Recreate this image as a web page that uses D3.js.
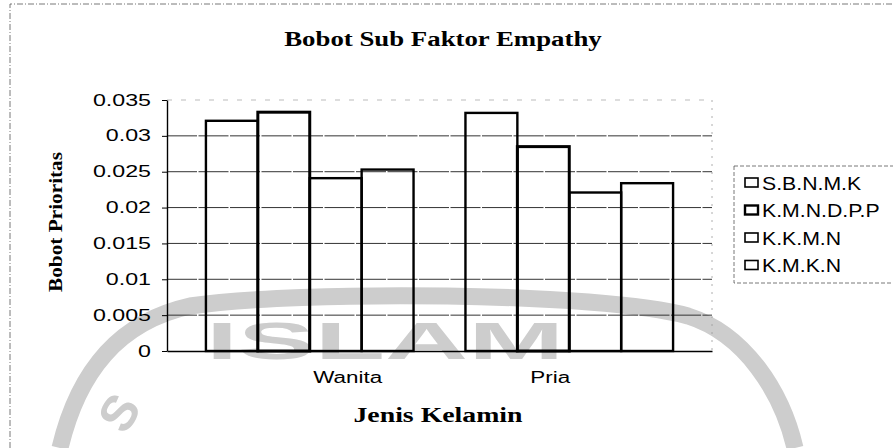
<!DOCTYPE html>
<html>
<head>
<meta charset="utf-8">
<script src="https://cdn.jsdelivr.net/npm/d3@7"></script>
<style>
  body { margin: 0; background: #fff; }
  svg { display: block; }
  .sans { font-family: Arial, "Liberation Sans", sans-serif; }
  .serif { font-family: "Times New Roman", "Liberation Serif", serif; font-weight: bold; }
</style>
</head>
<body>
<svg id="chart" width="893" height="448"></svg>
<script>
const categories = ["Wanita", "Pria"];
const seriesNames = ["S.B.N.M.K", "K.M.N.D.P.P", "K.K.M.N", "K.M.K.N"];
const wanitaValues = [0.0321, 0.0333, 0.0241, 0.0253];
const priaValues = [0.0332, 0.0285, 0.0221, 0.0234];
const yTicks = [0, 0.005, 0.01, 0.015, 0.02, 0.025, 0.03, 0.035];
const yTickLabels = ["0", "0.005", "0.01", "0.015", "0.02", "0.025", "0.03", "0.035"];

const valuesByCategory = { Wanita: wanitaValues, Pria: priaValues };

const svg = d3.select("#chart");
const plot = { left: 167, right: 712, top: 100, bottom: 351 };

// scanned chart: all text is wider than the font would draw it
const stretch = (sel, factor) => {
  sel.each(function () {
    const w = this.getComputedTextLength();
    d3.select(this).attr("textLength", w * factor).attr("lengthAdjust", "spacingAndGlyphs");
  });
};

const x0 = d3.scaleBand().domain(categories).range([plot.left, plot.right])
  .paddingInner(0.2).paddingOuter(0.15);
const x1 = d3.scaleBand().domain(seriesNames).range([0, x0.bandwidth()]);
const y = d3.scaleLinear().domain([0, 0.035]).range([plot.bottom, plot.top]);

// outer frame (only top and left visible)
svg.append("path")
  .attr("d", "M10 448 V4 H893")
  .attr("fill", "none")
  .attr("stroke", "#555")
  .attr("stroke-width", 0.8)
  .attr("stroke-dasharray", "6,2,1,2");

// faint watermark of the scanned page
const mark = svg.append("g")
  .attr("fill", "#cdcdcd")
  .attr("stroke", "#cdcdcd");
mark.append("path")
  .attr("d", "M60 448 C78 372 118 322 190 306 C300 290 600 292 688 316 C745 334 782 392 795 448")
  .attr("fill", "none")
  .attr("stroke-width", 17);
mark.append("text")
  .attr("class", "sans")
  .attr("x", 206).attr("y", 359)
  .attr("font-size", 52)
  .attr("font-weight", "bold")
  .attr("stroke", "none")
  .attr("textLength", 358)
  .attr("lengthAdjust", "spacingAndGlyphs")
  .text("ISLAM");
mark.append("text")
  .attr("class", "sans")
  .attr("transform", "translate(125,436) rotate(-58)")
  .attr("font-size", 50)
  .attr("font-weight", "bold")
  .attr("stroke", "none")
  .text("S");

// grid lines
svg.append("g")
  .selectAll("line")
  .data(yTicks.slice(1))
  .join("line")
  .attr("x1", plot.left)
  .attr("x2", plot.right)
  .attr("y1", (d) => y(d))
  .attr("y2", (d) => y(d))
  .attr("stroke", (d) => (d === 0.035 ? "#aaa" : "#333"))
  .attr("stroke-width", (d) => (d === 0.035 ? 0.8 : 1))
  .attr("stroke-dasharray", (d) => (d === 0.035 ? "5,9" : "30,1.5"));

// right plot edge, dotted
svg.append("line")
  .attr("x1", plot.right).attr("x2", plot.right)
  .attr("y1", plot.top).attr("y2", plot.bottom)
  .attr("stroke", "#999")
  .attr("stroke-width", 0.8)
  .attr("stroke-dasharray", "2,6");

// bars (no fill so the watermark shows through, like the scan)
const group = svg.append("g")
  .selectAll("g")
  .data(categories)
  .join("g")
  .attr("transform", (c) => `translate(${x0(c)},0)`);

group.selectAll("rect")
  .data((c) => valuesByCategory[c].map((v, i) => ({ name: seriesNames[i], value: v })))
  .join("rect")
  .attr("x", (d) => x1(d.name))
  .attr("width", x1.bandwidth())
  .attr("y", (d) => y(d.value))
  .attr("height", (d) => y(0) - y(d.value))
  .attr("fill", "none")
  .attr("stroke", "#000")
  .attr("stroke-width", (d) => (d.name === "K.M.N.D.P.P" ? 3 : 2.4));

// y axis
const yAxis = svg.append("g")
  .attr("transform", `translate(${plot.left},0)`)
  .call(d3.axisLeft(y).tickValues(yTicks).tickSize(5).tickSizeOuter(0).tickPadding(11)
    .tickFormat((d, i) => yTickLabels[i]));
yAxis.select(".domain").attr("stroke", "#000").attr("stroke-width", 1.4);
yAxis.selectAll(".tick line").attr("stroke", "#000");
yAxis.selectAll("text")
  .attr("class", "sans")
  .attr("font-size", 16)
  .attr("fill", "#000")
  .call(stretch, 1.45);

// x axis
const labelShift = { Wanita: 38, Pria: -19 };
const xAxis = svg.append("g")
  .attr("transform", `translate(0,${plot.bottom})`)
  .call(d3.axisBottom(x0).tickSize(0).tickSizeOuter(0).tickPadding(21));
xAxis.select(".domain").attr("stroke", "#000").attr("stroke-width", 1.5);
xAxis.selectAll("text")
  .attr("class", "sans")
  .attr("font-size", 16)
  .attr("fill", "#000")
  .attr("dx", (d) => labelShift[d])
  .call(stretch, 1.4);

// titles
svg.append("text")
  .attr("class", "serif")
  .attr("x", 443).attr("y", 46)
  .attr("text-anchor", "middle")
  .attr("font-size", 20)
  .text("Bobot Sub Faktor Empathy")
  .call(stretch, 1.34);

svg.append("text")
  .attr("class", "serif")
  .attr("x", 438).attr("y", 422)
  .attr("text-anchor", "middle")
  .attr("font-size", 20)
  .text("Jenis Kelamin")
  .call(stretch, 1.39);

svg.append("text")
  .attr("class", "serif")
  .attr("transform", "translate(62,222) rotate(-90)")
  .attr("text-anchor", "middle")
  .attr("font-size", 19)
  .text("Bobot Prioritas")
  .call(stretch, 1.12);

// legend
const legend = svg.append("g");
legend.append("rect")
  .attr("x", 734).attr("y", 166)
  .attr("width", 170).attr("height", 117)
  .attr("fill", "#fff")
  .attr("stroke", "#555")
  .attr("stroke-width", 0.8)
  .attr("stroke-dasharray", "4,2");

const item = legend.selectAll("g.item")
  .data(seriesNames)
  .join("g")
  .attr("class", "item")
  .attr("transform", (d, i) => `translate(745,${189.5 + i * 27.5})`);
item.append("rect")
  .attr("x", 0).attr("y", -11.5)
  .attr("width", 13).attr("height", 9)
  .attr("fill", "#fff")
  .attr("stroke", "#000")
  .attr("stroke-width", (d) => (d === "K.M.N.D.P.P" ? 2.4 : 1.6));
item.append("text")
  .attr("class", "sans")
  .attr("x", 17)
  .attr("font-size", 18)
  .attr("fill", "#000")
  .text((d) => d)
  .call(stretch, 1.18);
</script>
</body>
</html>
